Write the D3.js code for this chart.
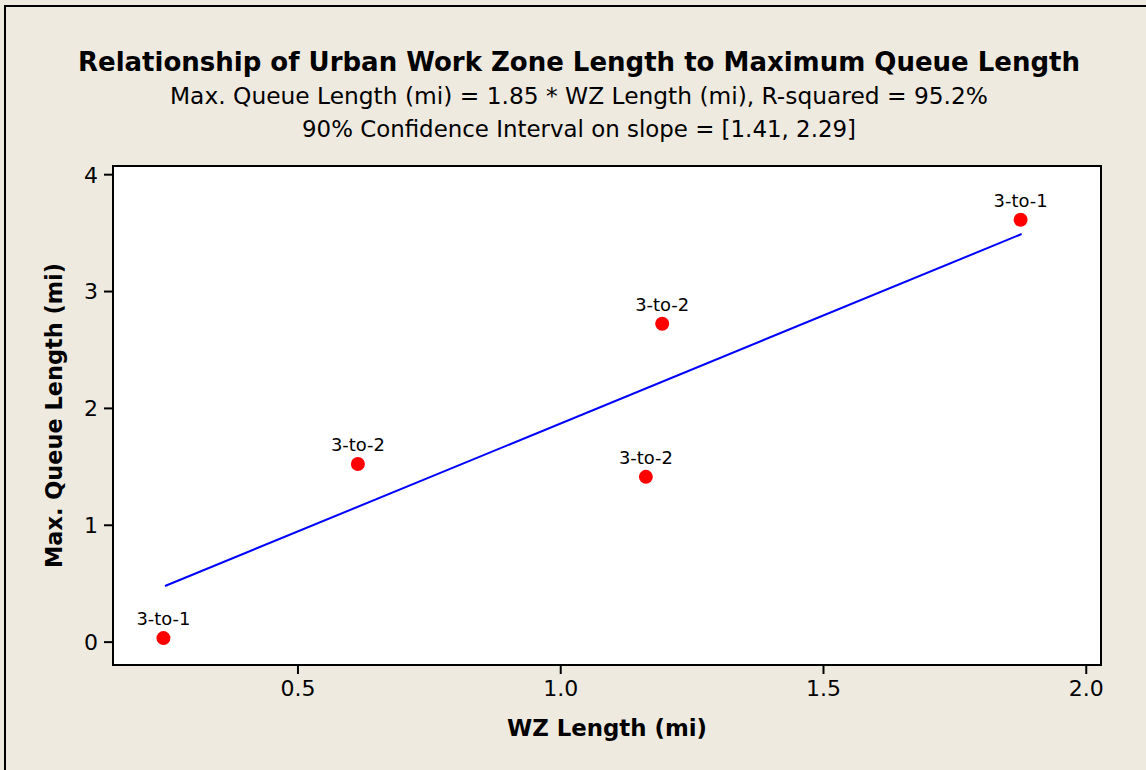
<!DOCTYPE html>
<html>
<head>
<meta charset="utf-8">
<script src="https://cdn.jsdelivr.net/npm/d3@7"></script>
<style>
	body { margin: 0; background: #eeeae0; }
	svg { display: block; }
	text { font-family: "DejaVu Sans", Verdana, sans-serif; fill: #000; }
</style>
</head>
<body>
<div id="chart"></div>
<script>
let WIDTH = 1146;
let HEIGHT = 770;
let BG = "#eeeae0";

let titleLines = [
	"Relationship of Urban Work Zone Length to Maximum Queue Length",
	"Max. Queue Length (mi) = 1.85 * WZ Length (mi), R-squared = 95.2%",
	"90% Confidence Interval on slope = [1.41, 2.29]"
];
let xLabel = "WZ Length (mi)";
let yLabel = "Max. Queue Length (mi)";

let wzLength = [0.245, 0.615, 1.194, 1.163, 1.876];
let queueLength = [0.03, 1.52, 2.72, 1.41, 3.61];
let ratio = ["3-to-1", "3-to-2", "3-to-2", "3-to-2", "3-to-1"];

// fitted line end points
let fitX = [0.248, 1.878];
let fitY = [0.476, 3.488];

let xTicks = [0.5, 1.0, 1.5, 2.0];
let yTicks = [0, 1, 2, 3, 4];

let plot = { left: 113, top: 166, right: 1101, bottom: 665 };

let svg = d3.select("#chart").append("svg").
	attr("width", WIDTH).
	attr("height", HEIGHT);

svg.append("rect").
	attr("width", WIDTH).
	attr("height", HEIGHT).
	attr("fill", BG);

// outer frame, runs off the right and bottom edge
svg.append("rect").
	attr("x", 5).
	attr("y", 6).
	attr("width", 1148).
	attr("height", 800).
	attr("fill", "none").
	attr("stroke", "#000").
	attr("stroke-width", 2);

let x = d3.scaleLinear().domain([0.149, 2.029]).range([plot.left, plot.right]);
let y = d3.scaleLinear().domain([-0.2, 4.07]).range([plot.bottom, plot.top]);

svg.append("rect").
	attr("x", plot.left).
	attr("y", plot.top).
	attr("width", plot.right - plot.left).
	attr("height", plot.bottom - plot.top).
	attr("fill", "#fff").
	attr("stroke", "#000").
	attr("stroke-width", 2);

let xAxis = svg.append("g").
	attr("transform", `translate(0, ${plot.bottom})`).
	call(d3.axisBottom(x).tickValues(xTicks).tickFormat(d3.format(".1f")).tickSize(9).tickPadding(6));

let yAxis = svg.append("g").
	attr("transform", `translate(${plot.left}, 0)`).
	call(d3.axisLeft(y).tickValues(yTicks).tickFormat(d3.format("d")).tickSize(9).tickPadding(6));

[xAxis, yAxis].forEach(g => {
	g.attr("font-size", null).attr("font-family", null);
	g.select(".domain").remove();
	g.selectAll(".tick line").attr("stroke", "#000").attr("stroke-width", 2);
	g.selectAll(".tick text").
		style("font-size", "22px").
		attr("fill", "#000");
});
yAxis.selectAll(".tick text").attr("dy", "0.36em");

// fitted line
svg.append("line").
	attr("x1", x(fitX[0])).
	attr("y1", y(fitY[0])).
	attr("x2", x(fitX[1])).
	attr("y2", y(fitY[1])).
	attr("stroke", "#0000ff").
	attr("stroke-width", 2);

let points = wzLength.map((d, i) => ({ x: d, y: queueLength[i], label: ratio[i] }));

svg.append("g").
	selectAll("circle").
	data(points).
	join("circle").
	attr("cx", d => x(d.x)).
	attr("cy", d => y(d.y)).
	attr("r", 7).
	attr("fill", "#ff0000");

svg.append("g").
	selectAll("text").
	data(points).
	join("text").
	attr("x", d => x(d.x)).
	attr("y", d => y(d.y) - 13).
	attr("text-anchor", "middle").
	attr("textLength", 54).
	attr("lengthAdjust", "spacingAndGlyphs").
	style("font-size", "18px").
	text(d => d.label);

// titles
let titleX = 579;
svg.append("text").
	attr("x", titleX).
	attr("y", 71).
	attr("text-anchor", "middle").
	attr("textLength", 1002).
	attr("lengthAdjust", "spacingAndGlyphs").
	style("font-size", "26px").
	style("font-weight", "bold").
	text(titleLines[0]);

svg.append("text").
	attr("x", titleX).
	attr("y", 104).
	attr("text-anchor", "middle").
	attr("textLength", 818).
	attr("lengthAdjust", "spacingAndGlyphs").
	style("font-size", "23px").
	text(titleLines[1]);

svg.append("text").
	attr("x", titleX).
	attr("y", 137).
	attr("text-anchor", "middle").
	attr("textLength", 554).
	attr("lengthAdjust", "spacingAndGlyphs").
	style("font-size", "23px").
	text(titleLines[2]);

svg.append("text").
	attr("x", (plot.left + plot.right) / 2).
	attr("y", 736).
	attr("text-anchor", "middle").
	attr("textLength", 200).
	attr("lengthAdjust", "spacingAndGlyphs").
	style("font-size", "23px").
	style("font-weight", "bold").
	text(xLabel);

svg.append("text").
	attr("transform", `translate(62, ${(plot.top + plot.bottom) / 2}) rotate(-90)`).
	attr("text-anchor", "middle").
	attr("textLength", 305).
	attr("lengthAdjust", "spacingAndGlyphs").
	style("font-size", "23px").
	style("font-weight", "bold").
	text(yLabel);
</script>
</body>
</html>
